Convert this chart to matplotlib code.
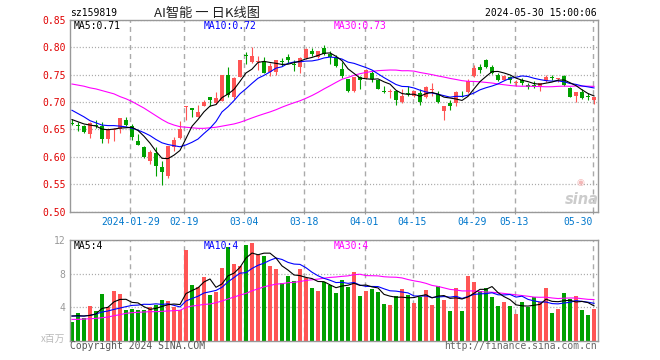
import numpy as np
import pandas as pd
import matplotlib
matplotlib.use("Agg")
import matplotlib.pyplot as plt

W, H = 660, 360
MONO = "DejaVu Sans Mono"
CJK = ["Noto Sans CJK SC", "DejaVu Sans"]
RED, GREEN = "#ff5555", "#00a000"
C_MA5, C_MA10, C_MA30 = "#000000", "#0000ff", "#ff00ff"
GRID, SPINE = "#aaaaaa", "#999999"

plt.rcParams.update({
    "font.family": MONO,
    "font.size": 7,
    "lines.scale_dashes": False,
    "axes.unicode_minus": False,
})

# daily OHLC, 2024-01-15 .. 2024-05-30 (88 sessions)
opens = [0.662, 0.659, 0.657, 0.642, 0.658, 0.657, 0.633, 0.650, 0.651, 0.668,
         0.657, 0.629, 0.618, 0.593, 0.607, 0.581, 0.565, 0.618, 0.634, 0.692,
         0.689, 0.673, 0.692, 0.710, 0.698, 0.702, 0.750, 0.710, 0.745, 0.785,
         0.774, 0.773, 0.774, 0.755, 0.755, 0.775, 0.782, 0.769, 0.765, 0.780,
         0.793, 0.782, 0.799, 0.788, 0.780, 0.760, 0.742, 0.721, 0.746, 0.744,
         0.754, 0.741, 0.720, 0.719, 0.721, 0.701, 0.717, 0.712, 0.716, 0.709,
         0.722, 0.715, 0.683, 0.698, 0.698, 0.711, 0.718, 0.747, 0.765, 0.777,
         0.764, 0.750, 0.741, 0.746, 0.735, 0.741, 0.732, 0.731, 0.727, 0.738,
         0.746, 0.743, 0.748, 0.726, 0.712, 0.718, 0.711, 0.704]
highs = [0.669, 0.663, 0.658, 0.663, 0.668, 0.663, 0.652, 0.652, 0.671, 0.672,
         0.660, 0.641, 0.620, 0.612, 0.618, 0.592, 0.619, 0.637, 0.665, 0.693,
         0.689, 0.695, 0.704, 0.710, 0.718, 0.749, 0.764, 0.745, 0.777, 0.791,
         0.801, 0.784, 0.782, 0.771, 0.776, 0.780, 0.788, 0.777, 0.782, 0.799,
         0.799, 0.794, 0.805, 0.793, 0.786, 0.774, 0.743, 0.746, 0.747, 0.760,
         0.756, 0.741, 0.729, 0.723, 0.722, 0.723, 0.729, 0.721, 0.723, 0.729,
         0.735, 0.720, 0.693, 0.704, 0.720, 0.720, 0.742, 0.768, 0.770, 0.779,
         0.768, 0.754, 0.749, 0.747, 0.741, 0.744, 0.735, 0.738, 0.735, 0.750,
         0.750, 0.744, 0.750, 0.727, 0.719, 0.723, 0.717, 0.710]
lows = [0.658, 0.647, 0.643, 0.635, 0.652, 0.626, 0.626, 0.628, 0.643, 0.657,
        0.631, 0.621, 0.598, 0.587, 0.565, 0.548, 0.562, 0.611, 0.632, 0.667,
        0.673, 0.673, 0.692, 0.692, 0.697, 0.702, 0.710, 0.706, 0.745, 0.770,
        0.771, 0.758, 0.753, 0.747, 0.750, 0.766, 0.771, 0.756, 0.754, 0.778,
        0.785, 0.780, 0.786, 0.770, 0.765, 0.744, 0.718, 0.718, 0.724, 0.742,
        0.736, 0.723, 0.716, 0.707, 0.695, 0.699, 0.712, 0.709, 0.695, 0.707,
        0.712, 0.698, 0.668, 0.685, 0.692, 0.709, 0.716, 0.746, 0.753, 0.762,
        0.752, 0.738, 0.740, 0.735, 0.729, 0.732, 0.724, 0.726, 0.720, 0.736,
        0.741, 0.736, 0.729, 0.709, 0.701, 0.705, 0.704, 0.696]
closes = [0.661, 0.657, 0.645, 0.662, 0.656, 0.633, 0.651, 0.6515, 0.671, 0.659,
          0.637, 0.622, 0.599, 0.608, 0.584, 0.573, 0.619, 0.631, 0.651, 0.693,
          0.685, 0.681, 0.701, 0.703, 0.707, 0.749, 0.713, 0.744, 0.776, 0.784,
          0.784, 0.774, 0.754, 0.766, 0.776, 0.774, 0.776, 0.768, 0.780, 0.797,
          0.787, 0.794, 0.788, 0.783, 0.766, 0.747, 0.720, 0.746, 0.741, 0.759,
          0.742, 0.724, 0.719, 0.720, 0.703, 0.712, 0.716, 0.721, 0.701, 0.727,
          0.723, 0.701, 0.693, 0.693, 0.718, 0.710, 0.738, 0.762, 0.759, 0.765,
          0.754, 0.740, 0.748, 0.741, 0.736, 0.735, 0.727, 0.730, 0.735, 0.746,
          0.745, 0.744, 0.732, 0.710, 0.719, 0.707, 0.710, 0.710]
# volume, millions
volumes = [2.26, 3.30, 2.66, 4.13, 3.58, 5.56, 3.97, 5.92, 5.56, 3.66,
           3.73, 3.66, 3.66, 3.97, 4.25, 4.85, 4.73, 4.05, 3.66, 10.8,
           6.63, 6.36, 7.55, 5.44, 5.84, 8.62, 11.2, 9.14, 8.90, 11.4,
           11.6, 10.17, 10.09, 8.90, 8.50, 6.91, 7.71, 7.15, 8.50, 7.43,
           6.24, 5.96, 7.03, 6.63, 5.72, 7.23, 6.44, 8.22, 5.32, 5.96,
           6.12, 5.84, 4.37, 4.25, 5.32, 6.16, 5.44, 4.53, 5.24, 6.04,
           4.25, 6.52, 4.85, 3.58, 6.32, 3.58, 7.75, 7.03, 5.92, 6.32,
           5.24, 4.13, 4.65, 4.13, 3.22, 4.65, 3.97, 5.16, 4.65, 6.32,
           3.34, 3.77, 5.72, 4.93, 5.32, 3.66, 3.06, 3.77]

# moving-average values before a full window exists
ma5_head = [0.668, 0.664, 0.660, 0.658]
ma10_head = [0.685, 0.679, 0.673, 0.666, 0.662, 0.658, 0.657, 0.657, 0.656]
ma30_head = [0.733, 0.731, 0.729, 0.726, 0.724, 0.721, 0.718, 0.715, 0.710, 0.706,
             0.701, 0.695, 0.689, 0.682, 0.675, 0.668, 0.662, 0.658, 0.655, 0.654,
             0.653, 0.652, 0.652, 0.653, 0.654, 0.656, 0.658, 0.660, 0.663]
vma5_head = [2.94, 2.98, 2.94, 3.02]
vma10_head = [2.94, 2.94, 2.94, 3.02, 3.18, 3.42, 3.54, 3.73, 3.89]
vma30_head = [2.54, 2.54, 2.58, 2.62, 2.66, 2.74, 2.82, 2.98, 3.10, 3.26,
              3.34, 3.38, 3.42, 3.46, 3.46, 3.50, 3.54, 3.58, 3.62, 3.97,
              4.13, 4.21, 4.33, 4.37, 4.53, 4.73, 4.97, 5.20, 5.44]

date_idx = [10, 19, 29, 39, 49, 57, 67, 74, 87]
date_labels = ["2024-01-29", "02-19", "03-04", "03-18", "04-01", "04-15", "04-29", "05-13", "05-30"]
price_ticks = [0.50, 0.55, 0.60, 0.65, 0.70, 0.75, 0.80, 0.85]
vol_ticks = [4, 8, 12]


def moving(vals, n, head):
    s = pd.Series(vals).rolling(n).mean().to_numpy()
    s[:len(head)] = head
    return s


def px_axes(fig, left, top, right, bottom):
    return fig.add_axes([left / W, 1 - bottom / H, (right - left) / W, (bottom - top) / H])


def ftext(fig, x, y, s, **kw):
    kw.setdefault("va", "center")
    fig.text(x / W, 1 - y / H, s, **kw)


def frame(ax, xlim):
    ax.set_xlim(*xlim)
    ax.set_axisbelow(True)
    for sp in ax.spines.values():
        sp.set_color(SPINE); sp.set_linewidth(1.0)
    ax.set_xticks(np.array(date_idx) - 0.25)
    ax.grid(axis="x", color=GRID, lw=1.0, ls=(0, (3.6, 2.9)))
    ax.grid(axis="y", color=GRID, lw=0.9, ls=(0, (0.8, 1.4)))


o, h, l, c = (np.asarray(a, float) for a in (opens, highs, lows, closes))
v = np.asarray(volumes, float)
x = np.arange(len(c))
cols = np.where(c > o, RED, GREEN)
xlim = (-0.33, 87.58)

fig = plt.figure(figsize=(W / 100, H / 100), dpi=100, facecolor="white")

# ---- price panel
ax = px_axes(fig, 70, 20, 597.5, 211.5)
frame(ax, xlim)
ax.set_ylim(0.50, 0.85)
ax.set_yticks(price_ticks)
ax.set_yticklabels([f"{t:.2f}" for t in price_ticks])
ax.tick_params(axis="y", length=0, pad=3.2, labelcolor="#e00000", labelsize=7)
ax.set_xticklabels(date_labels)
ax.get_xticklabels()[-1].set_ha("right")
ax.tick_params(axis="x", direction="inout", length=3, width=0.8, color=SPINE,
               labelcolor="#0077cc", labelsize=7, pad=2.5)

mid = (o + c) / 2
body = np.maximum(np.abs(c - o), 0.0018)
ax.vlines(x, l, h, colors=cols, lw=0.8, zorder=2)
ax.bar(x, body, bottom=mid - body / 2, width=0.75, color=cols, lw=0, zorder=2)
ax.plot(x, moving(c, 30, ma30_head), color=C_MA30, lw=0.8, zorder=3)
ax.plot(x, moving(c, 10, ma10_head), color=C_MA10, lw=0.8, zorder=3)
ax.plot(x, moving(c, 5, ma5_head), color=C_MA5, lw=0.8, zorder=3)

# ---- volume panel
axv = px_axes(fig, 70, 240, 597.5, 340.7)
frame(axv, xlim)
axv.set_ylim(0, 12)
axv.set_yticks(vol_ticks)
axv.set_yticklabels([str(t) for t in vol_ticks])
axv.tick_params(axis="y", length=0, pad=3.2, labelcolor="#999999", labelsize=7)
axv.tick_params(axis="x", length=0, labelbottom=False)
axv.bar(x, v, width=0.78, color=cols, lw=0, zorder=2)
axv.plot(x, moving(v, 30, vma30_head), color=C_MA30, lw=0.8, zorder=3)
axv.plot(x, moving(v, 10, vma10_head), color=C_MA10, lw=0.8, zorder=3)
axv.plot(x, moving(v, 5, vma5_head), color=C_MA5, lw=0.8, zorder=3)

# ---- texts
ftext(fig, 70, 13, "sz159819", color="#000000")
ftext(fig, 206.5, 13, "AI智能 一 日K线图", ha="center", family=CJK, fontsize=9.5, color="#222222")
ftext(fig, 597, 13, "2024-05-30 15:00:06", ha="right", color="#000000")
ftext(fig, 74, 26, "MA5:0.71", color=C_MA5)
ftext(fig, 204, 26, "MA10:0.72", color=C_MA10)
ftext(fig, 334, 26, "MA30:0.73", color=C_MA30)
ftext(fig, 74, 246, "MA5:4", color=C_MA5)
ftext(fig, 204, 246, "MA10:4", color=C_MA10)
ftext(fig, 334, 246, "MA30:4", color=C_MA30)
ftext(fig, 65, 339, "x百万", ha="right", family=CJK, fontsize=7, color="#bbbbbb")
ftext(fig, 70, 346, "Copyright 2024 SINA.COM", color="#555555")
ftext(fig, 597, 346, "http://finance.sina.com.cn", ha="right", color="#666666")
# sina watermark
ftext(fig, 580, 182, "\u25c9", ha="center", family="DejaVu Sans", fontsize=6.5, color="#f4b8b8")
ftext(fig, 582, 199, "sina", ha="center", family="DejaVu Sans", fontsize=10.5,
      fontweight="bold", style="italic", color="#cccccc")

fig.savefig("out.png", dpi=100, facecolor="white")
